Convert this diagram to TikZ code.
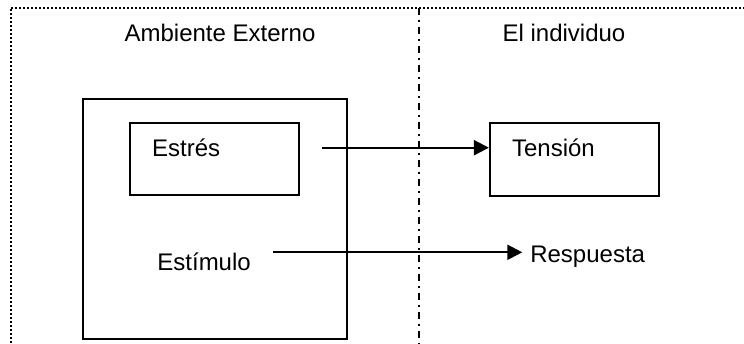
\documentclass[tikz,border=0pt]{standalone}
\usepackage{fontspec}
\setmainfont{Liberation Sans}
\usetikzlibrary{arrows.meta}
\begin{document}
\begin{tikzpicture}[x=0.5pt, y=-0.5pt, font=\fontsize{12}{14}\selectfont,
                box/.style={draw, line width=1.1pt, inner sep=0pt},
                txt/.style={inner sep=0pt, anchor=base west},
                flow/.style={line width=1.1pt, -{Triangle[length=7.5pt, width=7.5pt]}},
                frame/.style={line width=1pt, dash pattern=on 1pt off 1pt},
                divider/.style={line width=0.8pt, dash pattern=on 3.5pt off 2.5pt on 1pt off 2.5pt}]
                \useasboundingbox (0, 0) rectangle (744, 343);
                \draw [frame] (10.5, 343) -- (10.5, 7.5) -- (744, 7.5);
                \draw [divider] (419, 7.5) -- (419, 343);
                \node [inner sep=0pt, anchor=base] (ambiente) at (220, 41.7) {Ambiente Externo};
                \node [inner sep=0pt, anchor=base] (individuo) at (564, 41.7) {El individuo};
                \node [box, minimum width=132pt, minimum height=119.9pt] (externo) at (214.7, 219.2) {};
                \node [box, minimum width=84.5pt, minimum height=36.2pt] (estres) at (214.5, 158.9) {};
                \node [box, minimum width=84.5pt, minimum height=36.5pt] (tension) at (574.5, 159.2) {};
                \node [txt] (estreslbl) at (151.7, 156.7) {Estrés};
                \node [txt] (tensionlbl) at (511.7, 156.7) {Tensión};
                \node [txt] (estimulo) at (157, 270.7) {Estímulo};
                \node [txt, outer xsep=4pt] (respuesta) at (522.3, 262.3) {Respuesta};
                \coordinate (0) at (321.7, 147.7);
                \coordinate (1) at (273, 252.3);
                \draw [flow] (0) -- (0 -| tension.west);
                \draw [flow] (1) -- (1 -| respuesta.west);
\end{tikzpicture}
\end{document}
